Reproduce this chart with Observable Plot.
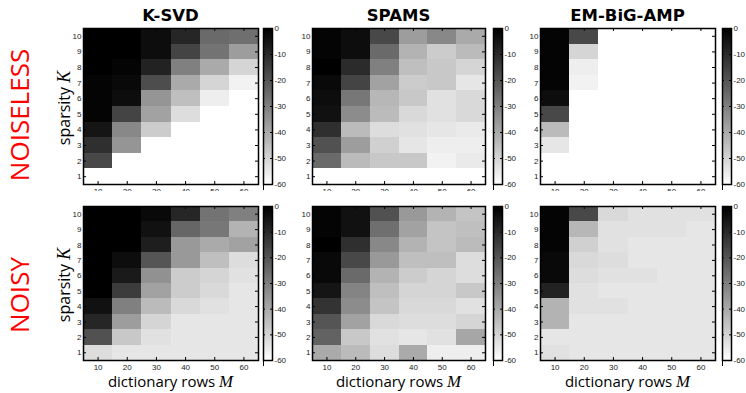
<!DOCTYPE html>
<html><head><meta charset="utf-8">
<script src="https://cdn.jsdelivr.net/npm/d3@7"></script>
<script src="https://cdn.jsdelivr.net/npm/@observablehq/plot@0.6"></script>
<style>
body{margin:0;background:#fff;}
#root{position:relative;width:746px;height:393px;overflow:hidden;background:#fff;font-family:"Open Sans",sans-serif;}
.abs{position:absolute;}
.title{position:absolute;font-family:"DejaVu Sans",sans-serif;font-weight:bold;font-size:16.5px;transform:translateX(-50%);white-space:nowrap;line-height:1;}
.row{position:absolute;color:#ff0000;font-family:"Open Sans",sans-serif;font-size:26px;white-space:nowrap;transform:translate(-50%,-50%) rotate(-90deg);line-height:1;}
.ylab{position:absolute;font-size:16px;white-space:nowrap;transform:translate(-50%,-50%) rotate(-90deg);line-height:1;}
.xlab{position:absolute;font-size:15px;white-space:nowrap;transform:translateX(-50%);line-height:1;}
.math{font-family:"Liberation Serif","DejaVu Serif",serif;font-style:italic;font-size:1.12em;}
</style></head><body><div id="root"></div>
<script>
// ---- data ----
const dictRows = [10, 20, 30, 40, 50, 60];            // M (columns)
const sparsityTopDown = [10, 9, 8, 7, 6, 5, 4, 3, 2, 1]; // K (rows as listed)
const sparsityTicks = [1, 2, 3, 4, 5, 6, 7, 8, 9, 10];
const colorTicks = [0, -10, -20, -30, -40, -50, -60];
const methods = ["K-SVD", "SPAMS", "EM-BiG-AMP"];
const conditions = ["NOISELESS", "NOISY"];

const ksvdNoiseless = [
  [0, 0, -3, -9, -25, -26],
  [0, 0, -3, -16, -27, -37],
  [0, -1, -8, -30, -40, -50],
  [-1, -2, -18, -40, -50, -57],
  [-1, -3, -35, -45, -56, -60],
  [-1, -16, -38, -52, -60, -60],
  [-5, -32, -48, -60, -60, -60],
  [-11, -35, -60, -60, -60, -60],
  [-17, -60, -60, -60, -60, -60],
  [-60, -60, -60, -60, -60, -60]
];
const spamsNoiseless = [
  [-1, -3, -17, -37, -32, -40],
  [-1, -3, -25, -42, -48, -44],
  [0, -10, -30, -45, -47, -50],
  [-2, -16, -38, -48, -47, -54],
  [-3, -28, -43, -47, -53, -51],
  [-4, -33, -44, -51, -53, -51],
  [-11, -44, -52, -53, -54, -55],
  [-19, -37, -49, -54, -56, -56],
  [-25, -44, -47, -47, -57, -55],
  [-60, -60, -60, -60, -60, -60]
];
const embigampNoiseless = [
  [-1, -17, -60, -60, -60, -60],
  [-1, -50, -60, -60, -60, -60],
  [-1, -56, -60, -60, -60, -60],
  [-1, -57, -60, -60, -60, -60],
  [-3, -60, -60, -60, -60, -60],
  [-17, -60, -60, -60, -60, -60],
  [-44, -60, -60, -60, -60, -60],
  [-54, -60, -60, -60, -60, -60],
  [-60, -60, -60, -60, -60, -60],
  [-60, -60, -60, -60, -60, -60]
];
const ksvdNoisy = [
  [0, 0, -2, -9, -27, -30],
  [0, 0, -4, -24, -28, -42],
  [0, 0, -7, -36, -40, -38],
  [0, -3, -20, -36, -45, -52],
  [0, -6, -34, -48, -50, -53],
  [0, -14, -38, -48, -51, -54],
  [-4, -30, -44, -51, -53, -54],
  [-9, -37, -50, -54, -54, -54],
  [-19, -47, -53, -54, -54, -54],
  [-52, -54, -54, -54, -54, -54]
];
const spamsNoisy = [
  [-1, -4, -19, -36, -42, -46],
  [-1, -4, -26, -38, -46, -45],
  [0, -11, -32, -42, -46, -44],
  [-2, -17, -36, -45, -45, -52],
  [-2, -25, -42, -48, -50, -52],
  [-5, -31, -45, -50, -50, -47],
  [-12, -33, -46, -51, -51, -53],
  [-20, -38, -51, -52, -52, -50],
  [-23, -47, -53, -54, -53, -39],
  [-40, -44, -52, -40, -56, -56]
];
const embigampNoisy = [
  [-1, -17, -51, -53, -53, -53],
  [-1, -43, -53, -53, -53, -54],
  [-1, -49, -53, -54, -54, -54],
  [-2, -51, -52, -54, -54, -54],
  [-2, -52, -53, -53, -54, -54],
  [-8, -53, -54, -54, -54, -54],
  [-42, -53, -53, -54, -54, -54],
  [-42, -54, -54, -54, -54, -54],
  [-54, -54, -54, -54, -54, -54],
  [-53, -54, -54, -54, -54, -54]
];

// ---- layout ----
const root = document.getElementById("root");
const colX = [[83, 258], [312, 485], [540, 715]];
const cbX = [263, 493, 722];
const rowY = [[28, 184], [206, 360]];
const grid = [
  [ksvdNoiseless, spamsNoiseless, embigampNoiseless],
  [ksvdNoisy, spamsNoisy, embigampNoisy]
];
const colorOpts = {type: "linear", domain: [-60, 0], range: ["white", "black"], interpolate: "rgb"};
const tickFont = "Liberation Sans, Arial, sans-serif";

function place(el, left, top) {
  el.style.position = "absolute";
  el.style.left = left + "px";
  el.style.top = top + "px";
  root.appendChild(el);
}

function heatmap(values, x0, x1, y0, y1, isBottom) {
  const W = x1 - x0, H = y1 - y0;
  const data = [];
  values.forEach((row, i) => row.forEach((v, j) => data.push({M: dictRows[j], K: sparsityTopDown[i], v})));
  const mL = 22, mR = 3, mT = 6, mB = isBottom ? 16 : 7;
  const tl = 3;
  const svg = Plot.plot({
    width: mL + W + mR, height: mT + H + mB,
    marginLeft: mL, marginRight: mR, marginTop: mT, marginBottom: mB,
    style: {background: "white", fontFamily: tickFont},
    x: {domain: [5, 65]},
    y: {domain: [0.5, 10.5]},
    color: colorOpts,
    marks: [
      Plot.rect(data, {x1: d => d.M - 5, x2: d => d.M + 5, y1: d => d.K - 0.5, y2: d => d.K + 0.5, fill: "v", shapeRendering: "crispEdges"}),
      Plot.ruleX(dictRows, {x: d => d, insetTop: H - tl, stroke: "black"}),
      Plot.ruleX(dictRows, {x: d => d, insetBottom: H - tl, stroke: "black"}),
      Plot.ruleY(sparsityTicks, {y: d => d, insetRight: W - tl, stroke: "black"}),
      Plot.ruleY(sparsityTicks, {y: d => d, insetLeft: W - tl, stroke: "black"}),
      Plot.axisX(dictRows, {anchor: "bottom", tickSize: 0, tickPadding: 4, fontSize: 8, fill: "#222", label: null}),
      Plot.axisY(sparsityTicks, {anchor: "left", tickSize: 0, tickPadding: 2, fontSize: 8, fill: "#222", label: null}),
      Plot.frame({stroke: "black", strokeWidth: 1.5})
    ]
  });
  place(svg, x0 - mL, y0 - mT);
}

function colorbar(x0, y0, y1) {
  const W = 9, H = y1 - y0;
  const mL = 1, mR = 20, mT = 6, mB = 7;
  const svg = Plot.plot({
    width: mL + W + mR, height: mT + H + mB,
    marginLeft: mL, marginRight: mR, marginTop: mT, marginBottom: mB,
    style: {background: "transparent", fontFamily: tickFont},
    x: {domain: [0, 1]},
    y: {domain: [-60, 0]},
    color: colorOpts,
    marks: [
      Plot.raster({fill: (x, y) => y, x1: 0, x2: 1, y1: -60, y2: 0, width: 4, height: 240}),
      Plot.ruleY(colorTicks, {y: d => d, insetRight: W - 2, stroke: "black"}),
      Plot.ruleY(colorTicks, {y: d => d, insetLeft: W - 2, stroke: "black"}),
      Plot.axisY(colorTicks, {anchor: "right", tickSize: 0, tickPadding: 2, fontSize: 8, fill: "#222", label: null, tickFormat: d => String(d)}),
      Plot.frame({stroke: "black", strokeWidth: 1.5})
    ]
  });
  place(svg, x0 - mL, y0 - mT);
}

// draw top row first, then bottom row (which overlaps the clipped top tick labels)
for (let r = 0; r < 2; r++) {
  for (let c = 0; c < 3; c++) {
    heatmap(grid[r][c], colX[c][0], colX[c][1], rowY[r][0], rowY[r][1], r === 1);
    colorbar(cbX[c], rowY[r][0], rowY[r][1]);
  }
}

// ---- text ----
methods.forEach((m, c) => {
  const d = document.createElement("div");
  d.className = "title";
  d.textContent = m;
  place(d, (colX[c][0] + colX[c][1]) / 2, 8);
});
conditions.forEach((t, r) => {
  const d = document.createElement("div");
  d.className = "row";
  d.textContent = t;
  place(d, 19, r === 0 ? 115 : 295);
});
rowY.forEach(([a, b]) => {
  const d = document.createElement("div");
  d.className = "ylab";
  d.innerHTML = 'sparsity <span class="math">K</span>';
  place(d, 65, (a + b) / 2 + 2);
});
colX.forEach(([a, b]) => {
  const d = document.createElement("div");
  d.className = "xlab";
  d.innerHTML = 'dictionary rows <span class="math">M</span>';
  place(d, (a + b) / 2, 374);
});
</script>
</body></html>
